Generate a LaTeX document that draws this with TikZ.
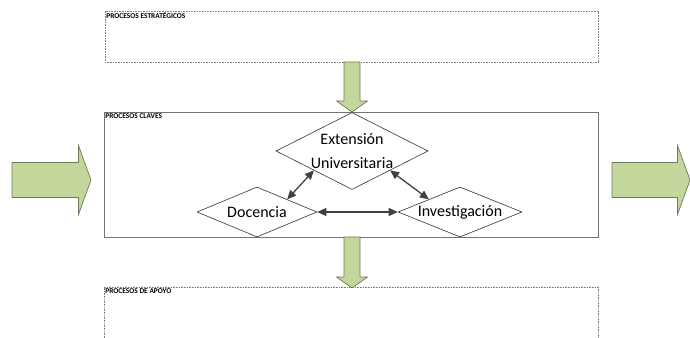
\documentclass[tikz,border=0pt]{standalone}
\usepackage{fontspec}
\setmainfont{Carlito}
\usepackage{tikz}
\usetikzlibrary{
	arrows.meta,
	shapes.geometric
}
\definecolor{arrowfill}{HTML}{C3D69B}
\definecolor{arrowline}{HTML}{6F7A57}
\tikzset{every path/.append style={line width=0.6pt}}
\tikzset{
	procbox/.style={rectangle,draw=black!55,inner sep=0pt},
	dashbox/.style={procbox,draw=black!50,dash pattern=on 1pt off 0.6pt},
	boxtitle/.style={anchor=north west,inner sep=1.4pt,font=\bfseries\fontsize{7.4}{8}\selectfont},
	proc/.style={diamond,draw=black!80,fill=white,inner sep=0pt},
	proctext/.style={align=center,inner sep=0pt,font=\fontsize{16}{24}\selectfont},
	link/.style={{Triangle[length=9pt,width=8pt]}-{Triangle[length=9pt,width=8pt]},draw=black!75,line width=1.3pt},
	blockarrow/.style={draw=arrowline,fill=arrowfill,line width=0.7pt}
}
% #1 = centre x, #2 = top y, #3 = tip y
\newcommand{\tikzDownArrow}[3]{\draw[blockarrow] (#1-8,#2) -- (#1+8,#2) -- (#1+8,#3-11) -- (#1+15.5,#3-11) -- (#1,#3) -- (#1-15.5,#3-11) -- (#1-8,#3-11) -- cycle;}
% #1 = tail x, #2 = tip x, #3 = centre y
\newcommand{\tikzRightArrow}[3]{\draw[blockarrow] (#1,#3-17.5) -- (#2-12.5,#3-17.5) -- (#2-12.5,#3-34.5) -- (#2,#3) -- (#2-12.5,#3+34.5) -- (#2-12.5,#3+17.5) -- (#1,#3+17.5) -- cycle;}

\begin{document}
\begin{tikzpicture}[x=1pt,y=-1pt]
	\useasboundingbox (0,0) rectangle (690,337);
	
	% process areas
	\node[dashbox,minimum width=493,minimum height=51,label={[boxtitle]north west:PROCESOS ESTRATÉGICOS}] (estr) at (351.5,36.5) {};
	\node[procbox,minimum width=494,minimum height=125,label={[boxtitle]north west:PROCESOS CLAVES}] (claves) at (351,174.5) {};
	\node[dashbox,minimum width=494,minimum height=80,label={[boxtitle]north west:PROCESOS DE APOYO}] (apoyo) at (351,327) {};
	
	% flow
	\tikzDownArrow{352}{62}{112}
	\tikzDownArrow{352}{237}{288}
	\tikzRightArrow{12}{91}{180}
	\tikzRightArrow{612}{690}{180}
	
	% key processes
	\node[proc,minimum width=152,minimum height=77,label={[proctext]center:Extensión\\Universitaria}] (ext) at (352,151) {};
	\node[proc,minimum width=120,minimum height=50,label={[proctext]center:Docencia}] (doc) at (257,212) {};
	\node[proc,minimum width=124,minimum height=50,label={[proctext]center:Investigación}] (inv) at (460,212) {};
	
	\draw[link] (ext.south west) -- (doc.north east);
	\draw[link] (ext.south east) -- (inv.north west);
	\draw[link] (doc) -- (inv);
\end{tikzpicture}
\end{document}
